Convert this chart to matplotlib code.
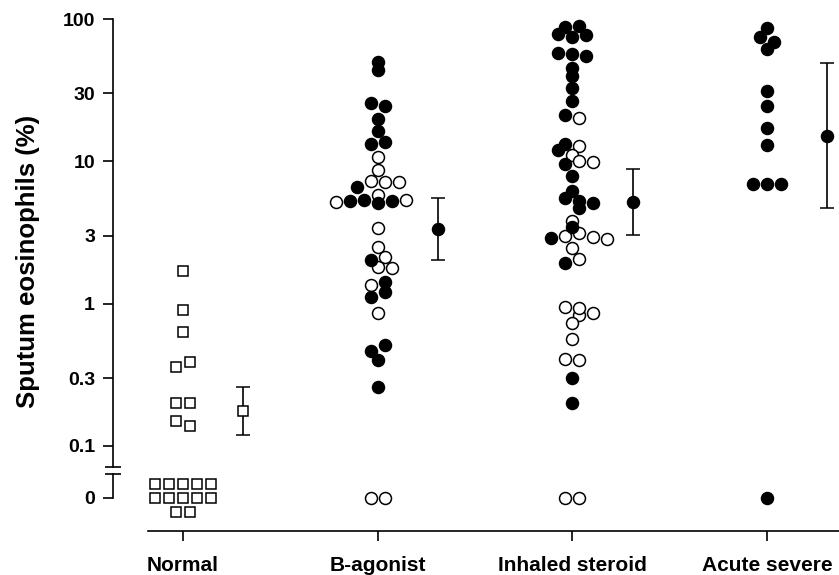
import numpy as np
import matplotlib
matplotlib.use('Agg')
import matplotlib.pyplot as plt
from matplotlib.ticker import NullLocator

plt.rcParams['font.family'] = ['Liberation Sans', 'DejaVu Sans']
plt.rcParams['font.weight'] = 'bold'

# ---------------- data ----------------
categories = ['Normal', 'B-agonist', 'Inhaled steroid', 'Acute severe']

normal_values = [1.69, 0.90, 0.635, 0.36, 0.39, 0.20, 0.20, 0.15, 0.138] + [0] * 12
normal_filled = [0] * 21

bagonist_values = [50, 44, 25.8, 24.5, 19.8, 16.3, 13.2, 13.7, 10.8, 8.7,
                   6.6, 7.3, 7.2, 7.1, 5.8,
                   5.20, 5.26, 5.35, 5.07, 5.26, 5.35,
                   3.42, 2.5, 2.02, 2.14, 1.82, 1.77, 1.35, 1.43, 1.12, 1.21,
                   0.855, 0.467, 0.51, 0.40, 0.26, 0, 0]
bagonist_filled = [1, 1, 1, 1, 1, 1, 1, 1, 0, 0,
                   1, 0, 0, 0, 0,
                   0, 1, 1, 1, 1, 0,
                   0, 0, 1, 0, 0, 0, 0, 1, 1, 1,
                   0, 1, 1, 1, 1, 0, 0]

steroid_values = [78.5, 87.5, 75, 89, 77,
                  58, 57, 55, 45, 40, 33, 26.7, 21.2, 20,
                  13.2, 12.8, 12.0, 11.1, 9.6, 10.1, 9.9,
                  7.9, 6.2, 5.5, 5.26, 4.72, 5.07, 3.83, 3.44,
                  2.88, 2.99, 3.12, 2.92, 2.83, 2.45, 1.92, 2.05,
                  0.94, 0.83, 0.855, 0.93, 0.73, 0.56, 0.41, 0.40, 0.30, 0.20, 0, 0]
steroid_filled = [1, 1, 1, 1, 1,
                  1, 1, 1, 1, 1, 1, 1, 1, 0,
                  1, 0, 1, 0, 1, 0, 0,
                  1, 1, 1, 1, 1, 1, 0, 1,
                  1, 0, 0, 0, 0, 0, 1, 0,
                  0, 0, 0, 0, 0, 0, 0, 0, 1, 1, 0, 0]

acute_values = [86, 75, 69, 62, 31.3, 24.5, 17.1, 13.0, 6.96, 6.96, 6.96, 0]
acute_filled = [1] * 12

summary_mean = [0.176, 3.34, 5.18, 15.0]
summary_low = [0.119, 2.02, 3.03, 4.7]
summary_high = [0.26, 5.53, 8.83, 49.0]

y_ticks = [0.1, 0.3, 1, 3, 10, 30, 100]
y_tick_labels = ['0.1', '0.3', '1', '3', '10', '30', '100']

groups = [(normal_values, normal_filled, 's'),
          (bagonist_values, bagonist_filled, 'o'),
          (steroid_values, steroid_filled, 'o'),
          (acute_values, acute_filled, 'o')]

# ---------------- layout ----------------
W, H = 839, 575
fig = plt.figure(figsize=(W / 100, H / 100), dpi=100)


def rect(l, t, r, b):
    return [l / W, 1 - b / H, (r - l) / W, (b - t) / H]


ax = fig.add_axes(rect(113, 19, 839, 467))
axl = fig.add_axes(rect(113, 474, 839, 531))
for a in (ax, axl):
    a.set_facecolor('none')
    a.set_xlim(-0.36, 3.37)

ax.set_yscale('log')
ax.set_ylim(0.0711, 100)
axl.set_ylim(-33.5, 23.5)

LW = 1.2
for a in (ax, axl):
    for s in ('top', 'right'):
        a.spines[s].set_visible(False)
    for s in ('left', 'bottom'):
        a.spines[s].set_linewidth(LW)
ax.spines['bottom'].set_visible(False)
ax.tick_params(axis='x', bottom=False, labelbottom=False)
ax.set_yticks(y_ticks)
ax.set_yticklabels(y_tick_labels)
ax.yaxis.set_minor_locator(NullLocator())
ax.tick_params(axis='y', direction='out', length=7, width=LW, pad=6, labelsize=14)

axl.spines['left'].set_bounds(0, 23.5)
axl.spines['bottom'].set_bounds(-0.18, 3.37)
axl.set_yticks([0])
axl.set_yticklabels(['0'])
axl.tick_params(axis='y', direction='out', length=7, width=LW, pad=6, labelsize=14)
axl.set_xticks(range(len(categories)))
axl.set_xticklabels(categories)
axl.tick_params(axis='x', direction='out', length=7, width=LW, pad=11, labelsize=15)

# axis break marks
ax.plot([0], [0], marker='_', ms=12, mew=LW, color='k',
        transform=ax.transAxes, clip_on=False)
axl.plot([0], [1], marker='_', ms=12, mew=LW, color='k',
         transform=axl.transAxes, clip_on=False)

fig.text(28 / W, 1 - 261 / H, 'Sputum eosinophils (%)', rotation=90,
         ha='center', va='center', fontsize=18.5, fontweight='bold')


# ---------------- swarm placement (display pixels) ----------------
def swarm(yd, dx_min=13.0, dy_min=6.5, step=7.0, tol=6.5):
    n = len(yd)
    idx = sorted(range(n), key=lambda i: yd[i])
    rows, cur = [], []
    for i in idx:
        if cur and yd[i] - yd[cur[0]] < tol:
            cur.append(i)
        else:
            if cur:
                rows.append(cur)
            cur = [i]
    if cur:
        rows.append(cur)
    rows.sort(key=lambda r: -max(yd[i] for i in r))
    offs = np.zeros(n)
    placed = []
    shifts = [0.0]
    for k in range(1, 20):
        shifts += [k * step, -k * step]
    for row in rows:
        row = sorted(row)
        m = len(row)
        base = (np.arange(m) - (m - 1) / 2) * 2 * step
        chosen = 0.0
        for s in shifts:
            ok = True
            for b, i in zip(base, row):
                for px, py in placed:
                    if ((b + s - px) / dx_min) ** 2 + ((yd[i] - py) / dy_min) ** 2 < 1:
                        ok = False
                        break
                if not ok:
                    break
            if ok:
                chosen = s
                break
        for b, i in zip(base, row):
            offs[i] = b + chosen
            placed.append((b + chosen, yd[i]))
    return offs


def zero_grid(n, step=7.0, per_row=5):
    order = [0, 1, -1, 2, -2]
    xs, ys = [], []
    r = 0
    left = n
    while left > 0:
        m = min(per_row, left)
        for k in range(m):
            xs.append((k - (m - 1) / 2) * 2 * step)
            ys.append(order[r] * 2 * step)
        left -= m
        r += 1
    return np.array(xs), np.array(ys)


MS_O = 8.6
MS_S = 7.9
MEW = 1.1

for gi, (vals, fill, mk) in enumerate(groups):
    v = np.array(vals, dtype=float)
    f = np.array(fill, dtype=bool)
    nz = v > 0
    ms = MS_S if mk == 's' else MS_O
    vv = v[nz]
    ff = f[nz]
    disp = ax.transData.transform(np.column_stack([np.full(len(vv), gi), vv]))
    offs = swarm(disp[:, 1])
    xd = ax.transData.inverted().transform(
        np.column_stack([disp[:, 0] + offs, disp[:, 1]]))[:, 0]
    z = int((~nz).sum())
    fz = f[~nz]
    if z:
        c = axl.transData.transform((gi, 0))
        zx, zy = zero_grid(z)
        zd = axl.transData.inverted().transform(np.column_stack([c[0] + zx, c[1] + zy]))
    for filled in (False, True):
        sel = ff == filled
        fc = 'black' if filled else 'white'
        ax.plot(xd[sel], vv[sel], ls='none', marker=mk, ms=ms, mfc=fc, mec='black',
                mew=MEW, clip_on=False, zorder=3 + filled)
        if z:
            sz = fz == filled
            axl.plot(zd[sz, 0], zd[sz, 1], ls='none', marker=mk, ms=ms, mfc=fc,
                     mec='black', mew=MEW, clip_on=False, zorder=3 + filled)

# ---------------- summary (mean with error bars) ----------------
summary_shift = 0.31
for gi in range(len(categories)):
    mk = groups[gi][2]
    fc = 'white' if mk == 's' else 'black'
    m = summary_mean[gi]
    ax.errorbar([gi + summary_shift], [m],
                yerr=[[m - summary_low[gi]], [summary_high[gi] - m]],
                fmt=mk, ms=(MS_S if mk == 's' else MS_O), mfc=fc, mec='black', mew=MEW,
                ecolor='black', elinewidth=LW, capsize=4.7, capthick=LW, zorder=5)

fig.savefig('out.png', dpi=100)
